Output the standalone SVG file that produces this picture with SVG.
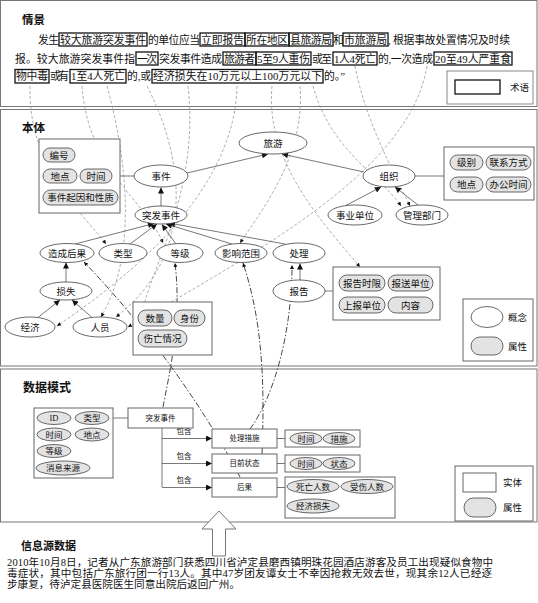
<svg xmlns="http://www.w3.org/2000/svg" width="538" height="603" viewBox="0 0 538 603">
<defs>
<style>
.pn{fill:none;stroke:#777;stroke-width:1}
.t{font-family:"Liberation Serif","Noto Sans CJK SC",sans-serif;fill:#111}
.h{font-family:"Liberation Serif","Noto Sans CJK SC",sans-serif;font-weight:bold;fill:#111}
.tb{fill:none;stroke:#111;stroke-width:1.3}
.c{fill:#fff;stroke:#444;stroke-width:0.8}
.a{fill:#e3e3e3;stroke:#444;stroke-width:0.8}
.ab{fill:#fff;stroke:#666;stroke-width:1}
.sl{stroke:#555;stroke-width:0.8;fill:none}
.dl{stroke:#9a9a9a;stroke-width:0.8;stroke-dasharray:3 2;fill:none}
.dd{stroke:#333;stroke-width:0.9;stroke-dasharray:6 2 1.5 2;fill:none}
.n{font-size:9.5px;text-anchor:middle}
.s{font-size:8.5px;text-anchor:middle}
.e{font-size:7.5px;text-anchor:middle}
.p{font-size:10.8px}
</style>
<marker id="ar" viewBox="0 0 10 10" refX="10" refY="5" markerWidth="7" markerHeight="6" orient="auto" markerUnits="userSpaceOnUse"><path d="M0,0 L10,5 L0,10 z" fill="#111"/></marker>
<marker id="as" viewBox="0 0 10 10" refX="10" refY="5" markerWidth="4.5" markerHeight="4" orient="auto" markerUnits="userSpaceOnUse"><path d="M0,0 L10,5 L0,10 z" fill="#111"/></marker>
</defs>
<rect width="538" height="603" fill="#fff"/>

<g id="panels">
<rect class="pn" x="0.5" y="0.5" width="536.5" height="106"/>
<rect class="pn" x="0.5" y="109.5" width="536.5" height="256.5"/>
<rect class="pn" x="0.5" y="369" width="536.5" height="153"/>
</g>

<g id="scene">
<text class="h" x="22" y="24" font-size="11.5">情景</text>
<g class="t p">
<text x="38" y="43.5" textLength="21">发生</text>
<text x="60" y="43.5" textLength="86">较大旅游突发事件</text>
<text x="148" y="43.5" textLength="52">的单位应当</text>
<text x="201" y="43.5" textLength="43">立即报告</text>
<text x="246" y="43.5" textLength="42">所在地区</text>
<text x="290" y="43.5" textLength="42">县旅游局</text>
<text x="333" y="43.5">和</text>
<text x="344" y="43.5" textLength="43">市旅游局</text>
<text x="388" y="43.5">,</text>
<text x="393" y="43.5" textLength="117">根据事故处置情况及时续</text>
<text x="15" y="62.5" textLength="120">报。较大旅游突发事件指</text>
<text x="137" y="62.5" textLength="20">一次</text>
<text x="159" y="62.5" textLength="63">突发事件造成</text>
<text x="224" y="62.5" textLength="31">旅游者</text>
<text x="257" y="62.5" textLength="53">5至9人重伤</text>
<text x="312" y="62.5" textLength="20">或至</text>
<text x="334" y="62.5" textLength="42">1人4死亡</text>
<text x="378" y="62.5" textLength="55">的,一次造成</text>
<text x="435" y="62.5" textLength="76">20至49人严重食</text>
<text x="16" y="80" textLength="32">物中毒</text>
<text x="50" y="80" textLength="19">或有</text>
<text x="71" y="80" textLength="54">1至4人死亡</text>
<text x="127" y="80" textLength="24">的,或</text>
<text x="153" y="80" textLength="169">经济损失在10万元以上100万元以下</text>
<text x="324" y="80">的。”</text>
</g>
<rect class="tb" x="59" y="33" width="88" height="13"/>
<rect class="tb" x="200" y="33" width="45" height="13"/>
<rect class="tb" x="245" y="33" width="44" height="13"/>
<rect class="tb" x="289" y="33" width="44" height="13"/>
<rect class="tb" x="343" y="33" width="45" height="13"/>
<rect class="tb" x="136" y="52" width="22" height="13"/>
<rect class="tb" x="223" y="52" width="33" height="13"/>
<rect class="tb" x="256" y="52" width="55" height="13"/>
<rect class="tb" x="333" y="52" width="44" height="13"/>
<rect class="tb" x="434" y="52" width="78" height="13"/>
<rect class="tb" x="15" y="69.5" width="34" height="13.5"/>
<rect class="tb" x="70" y="69.5" width="56" height="13.5"/>
<rect class="tb" x="152" y="69.5" width="171" height="13.5"/>
<g id="legend-term">
<rect x="447" y="71" width="86" height="33" fill="#fff" stroke="#888"/>
<rect class="tb" x="455" y="80" width="45" height="14"/>
<text class="t" x="510" y="91" font-size="9.5">术语</text>
</g>
</g>

<g id="connectors">
<path class="dl" marker-end="url(#as)" d="M30,86 C28,170 85,215 106,244"/>
<path class="dl" marker-end="url(#as)" d="M82,86 C88,170 145,200 163,243"/>
<path class="dl" marker-end="url(#as)" d="M107,86 C130,170 135,260 101,317"/>
<path class="dl" marker-end="url(#as)" d="M147,86 C190,170 190,260 116,317"/>
<path class="dl" marker-end="url(#as)" d="M188,86 C200,190 150,270 143,310"/>
<path class="dl" marker-end="url(#as)" d="M237,86 C235,200 110,290 57,326"/>
<path class="dl" marker-end="url(#as)" d="M272,86 C265,160 320,220 360,267"/>
<path class="dl" marker-end="url(#as)" d="M313,86 C330,150 380,175 401,206"/>
<path class="dl" marker-end="url(#as)" d="M355,66 C365,120 395,175 410,206"/>
<path class="dl" marker-end="url(#as)" d="M427,66 C410,170 260,250 128,327"/>
<path class="dl" marker-end="url(#as)" d="M300,86 C305,150 270,200 240,243"/>

<path class="dd" marker-end="url(#as)" d="M163,407 C170,370 182,320 175,263"/>
<path class="dd" marker-end="url(#as)" d="M240,477 C200,400 140,320 84,262"/>
<path class="dd" marker-end="url(#as)" d="M250,429 C275,395 292,330 292,265"/>
<path class="dd" marker-end="url(#as)" d="M262,454 C265,380 262,320 243,263"/>

<line class="sl" x1="120" y1="176" x2="134" y2="176"/>
<line class="sl" x1="161" y1="206" x2="161" y2="187.5" marker-end="url(#ar)"/>
<line class="sl" x1="187" y1="173" x2="268" y2="154" marker-end="url(#ar)"/>
<line class="sl" x1="364" y1="172" x2="282" y2="154" marker-end="url(#ar)"/>
<line class="sl" x1="415" y1="176" x2="444" y2="176"/>
<line class="sl" x1="345" y1="206" x2="381" y2="187" marker-end="url(#ar)"/>
<line class="sl" x1="418" y1="205" x2="395" y2="187" marker-end="url(#ar)"/>
<line class="sl" x1="75" y1="244" x2="154" y2="223.5" marker-end="url(#ar)"/>
<line class="sl" x1="130" y1="244" x2="157" y2="224" marker-end="url(#ar)"/>
<line class="sl" x1="176" y1="244" x2="162" y2="224.5" marker-end="url(#ar)"/>
<line class="sl" x1="232" y1="244" x2="166" y2="224" marker-end="url(#ar)"/>
<line class="sl" x1="285" y1="244" x2="169" y2="223" marker-end="url(#ar)"/>
<line class="sl" x1="66" y1="282" x2="66" y2="262.5" marker-end="url(#ar)"/>
<line class="sl" x1="38" y1="317.5" x2="60" y2="300" marker-end="url(#ar)"/>
<line class="sl" x1="92" y1="317.5" x2="72" y2="300" marker-end="url(#ar)"/>
<line class="sl" x1="300" y1="280" x2="300" y2="263.5" marker-end="url(#ar)"/>
<line class="sl" x1="325" y1="291" x2="333" y2="291"/>

<line class="sl" x1="113" y1="418" x2="128" y2="418"/>
<polyline class="sl" points="162,428 162,487"/>
<line class="sl" x1="162" y1="438.5" x2="212" y2="438.5" marker-end="url(#ar)"/>
<line class="sl" x1="162" y1="463.5" x2="212" y2="463.5" marker-end="url(#ar)"/>
<line class="sl" x1="162" y1="487.5" x2="212" y2="487.5" marker-end="url(#ar)"/>
<line class="sl" x1="277" y1="438.5" x2="285" y2="438.5"/>
<line class="sl" x1="277" y1="463.5" x2="285" y2="463.5"/>
<line class="sl" x1="277" y1="487.5" x2="285" y2="487.5"/>
<g class="t e">
<text x="184" y="434">包含</text>
<text x="184" y="459">包含</text>
<text x="184" y="483">包含</text>
</g>
</g>

<g id="ontology">
<text class="h" x="22" y="132" font-size="11.5">本体</text>

<g id="event-attrs">
<rect class="ab" x="39" y="139" width="81" height="74"/>
<rect class="a" x="43" y="148" width="32" height="14" rx="7"/>
<rect class="a" x="43" y="169" width="34" height="14" rx="7"/>
<rect class="a" x="80" y="169" width="32" height="14" rx="7"/>
<rect class="a" x="43" y="190" width="75" height="15" rx="7.5"/>
<g class="t n"><text x="59" y="158.5">编号</text><text x="60" y="179.5">地点</text><text x="96" y="179.5">时间</text><text x="80.5" y="201">事件起因和性质</text></g>
</g>
<g id="n-shijian"><ellipse class="c" cx="161" cy="176" rx="27" ry="11"/><text class="t n" x="161" y="179.5">事件</text></g>
<g id="n-tufa"><ellipse class="c" cx="161" cy="215" rx="26" ry="9"/><text class="t n" x="161" y="218.5">突发事件</text></g>
<g id="n-lvyou"><ellipse class="c" cx="273" cy="143" rx="34" ry="11"/><text class="t n" x="273" y="146.5">旅游</text></g>
<g id="n-zuzhi"><ellipse class="c" cx="389" cy="176" rx="26" ry="11"/><text class="t n" x="389" y="179.5">组织</text></g>
<g id="org-attrs">
<rect class="ab" x="444" y="147" width="90" height="53"/>
<rect class="a" x="450" y="155" width="33" height="15" rx="7.5"/>
<rect class="a" x="486" y="155" width="45" height="15" rx="7.5"/>
<rect class="a" x="450" y="177" width="33" height="15" rx="7.5"/>
<rect class="a" x="486" y="177" width="45" height="15" rx="7.5"/>
<g class="t n"><text x="466.5" y="166">级别</text><text x="508.5" y="166">联系方式</text><text x="466.5" y="188">地点</text><text x="508.5" y="188">办公时间</text></g>
</g>
<g id="n-shiye"><ellipse class="c" cx="355" cy="215" rx="27" ry="10"/><text class="t n" x="355" y="218.5">事业单位</text></g>
<g id="n-guanli"><ellipse class="c" cx="422" cy="215" rx="26" ry="10"/><text class="t n" x="422" y="218.5">管理部门</text></g>
<g id="n-houguo"><ellipse class="c" cx="67" cy="253" rx="27" ry="9.5"/><text class="t n" x="67" y="256.5">造成后果</text></g>
<g id="n-leixing"><ellipse class="c" cx="123" cy="253" rx="24" ry="9.5"/><text class="t n" x="123" y="256.5">类型</text></g>
<g id="n-dengji"><ellipse class="c" cx="180" cy="253" rx="23" ry="9.5"/><text class="t n" x="180" y="256.5">等级</text></g>
<g id="n-fanwei"><ellipse class="c" cx="241" cy="253" rx="26" ry="9.5"/><text class="t n" x="241" y="256.5">影响范围</text></g>
<g id="n-chuli"><ellipse class="c" cx="299" cy="253" rx="26" ry="10"/><text class="t n" x="299" y="256.5">处理</text></g>
<g id="n-sunshi"><ellipse class="c" cx="66" cy="291" rx="26" ry="9"/><text class="t n" x="66" y="294.5">损失</text></g>
<g id="n-jingji"><ellipse class="c" cx="30" cy="327" rx="25" ry="10"/><text class="t n" x="30" y="330.5">经济</text></g>
<g id="n-renyuan"><ellipse class="c" cx="100" cy="327" rx="27" ry="10"/><text class="t n" x="100" y="330.5">人员</text></g>
<g id="person-attrs">
<rect class="ab" x="133" y="302" width="79" height="53"/>
<rect class="a" x="138" y="310" width="34" height="16" rx="8"/>
<rect class="a" x="174" y="310" width="31" height="16" rx="8"/>
<rect class="a" x="138" y="330" width="49" height="17" rx="8.5"/>
<g class="t n"><text x="155" y="321.5">数量</text><text x="189.5" y="321.5">身份</text><text x="162.5" y="342">伤亡情况</text></g>
</g>
<g id="n-baogao"><ellipse class="c" cx="299" cy="291" rx="26" ry="11"/><text class="t n" x="299" y="294.5">报告</text></g>
<g id="report-attrs">
<rect class="ab" x="333" y="267" width="107" height="53"/>
<rect class="a" x="339" y="275" width="46" height="16" rx="8"/>
<rect class="a" x="388" y="275" width="45" height="16" rx="8"/>
<rect class="a" x="339" y="297" width="46" height="16" rx="8"/>
<rect class="a" x="388" y="297" width="45" height="16" rx="8"/>
<g class="t n"><text x="362" y="286.5">报告时限</text><text x="410.5" y="286.5">报送单位</text><text x="362" y="308.5">上报单位</text><text x="410.5" y="308.5">内容</text></g>
</g>
<g id="legend-onto">
<rect class="ab" x="463" y="299" width="70" height="62"/>
<ellipse class="c" cx="487" cy="317" rx="16" ry="10.5"/>
<text class="t" x="508" y="321" font-size="9.5">概念</text>
<rect class="a" x="471" y="337" width="32" height="18" rx="9"/>
<text class="t" x="508" y="350" font-size="9.5">属性</text>
</g>
</g>

<g id="datamodel">
<text class="h" x="23" y="392" font-size="12">数据模式</text>
<g id="ev-attrs">
<rect class="ab" x="34" y="408" width="79" height="70"/>
<ellipse class="a" cx="54" cy="418" rx="17" ry="6.5"/>
<ellipse class="a" cx="92" cy="418" rx="17" ry="6.5"/>
<ellipse class="a" cx="54" cy="434.5" rx="17" ry="6.5"/>
<ellipse class="a" cx="92" cy="434.5" rx="17" ry="6.5"/>
<ellipse class="a" cx="54" cy="451" rx="17" ry="6.5"/>
<ellipse class="a" cx="63" cy="468" rx="27" ry="7"/>
<g class="t s"><text x="54" y="421">ID</text><text x="92" y="421">类型</text><text x="54" y="437.5">时间</text><text x="92" y="437.5">地点</text><text x="54" y="454">等级</text><text x="63" y="471">消息来源</text></g>
</g>
<g id="ent-tufa"><rect class="ab" x="128" y="408" width="65" height="20"/><text class="t e" x="160.5" y="420.5">突发事件</text></g>
<g id="ent-cuoshi"><rect class="ab" x="212" y="429" width="65" height="19"/><text class="t e" x="244.5" y="441">处理措施</text></g>
<g id="ent-zhuangtai"><rect class="ab" x="212" y="454" width="65" height="19"/><text class="t e" x="244.5" y="466">目前状态</text></g>
<g id="ent-houguo"><rect class="ab" x="212" y="478" width="65" height="19"/><text class="t e" x="244.5" y="490">后果</text></g>
<g id="cs-attrs">
<rect class="ab" x="285" y="430" width="75" height="17"/>
<ellipse class="a" cx="306" cy="438.5" rx="16" ry="6"/>
<ellipse class="a" cx="339" cy="438.5" rx="16" ry="6"/>
<g class="t s"><text x="306" y="441.5">时间</text><text x="339" y="441.5">措施</text></g>
</g>
<g id="zt-attrs">
<rect class="ab" x="285" y="455" width="75" height="17"/>
<ellipse class="a" cx="306" cy="463.5" rx="16" ry="6"/>
<ellipse class="a" cx="339" cy="463.5" rx="16" ry="6"/>
<g class="t s"><text x="306" y="466.5">时间</text><text x="339" y="466.5">状态</text></g>
</g>
<g id="hg-attrs">
<rect class="ab" x="285" y="477" width="110" height="41"/>
<ellipse class="a" cx="313" cy="486.5" rx="26" ry="7"/>
<ellipse class="a" cx="367" cy="486.5" rx="26" ry="7"/>
<ellipse class="a" cx="313" cy="506" rx="26" ry="7"/>
<g class="t s"><text x="313" y="489.5">死亡人数</text><text x="367" y="489.5">受伤人数</text><text x="313" y="509">经济损失</text></g>
</g>
<g id="legend-data">
<rect class="ab" x="455" y="466" width="78" height="55"/>
<rect class="ab" x="463" y="473" width="33" height="19"/>
<text class="t" x="503" y="486" font-size="9.5">实体</text>
<rect class="a" x="464" y="498" width="32" height="19" rx="9.5"/>
<text class="t" x="503" y="511" font-size="9.5">属性</text>
</g>
</g>

<g id="up-arrow">
<polygon points="219,511 236,529 225.5,529 225.5,556 212.5,556 212.5,529 202,529" fill="#fff" stroke="#777" stroke-width="1"/>
</g>

<g id="source">
<text class="h" x="21" y="550" font-size="11">信息源数据</text>
<g class="t" font-size="10.6">
<text x="7" y="566" textLength="486">2010年10月8日，记者从广东旅游部门获悉四川省泸定县磨西镇明珠花园酒店游客及员工出现疑似食物中</text>
<text x="7" y="577" textLength="485">毒症状，其中包括广东旅行团一行13人。其中47岁团友谭女士不幸因抢救无效去世，现其余12人已经逐</text>
<text x="7" y="588">步康复，待泸定县医院医生同意出院后返回广州。</text>
</g>
</g>
</svg>
